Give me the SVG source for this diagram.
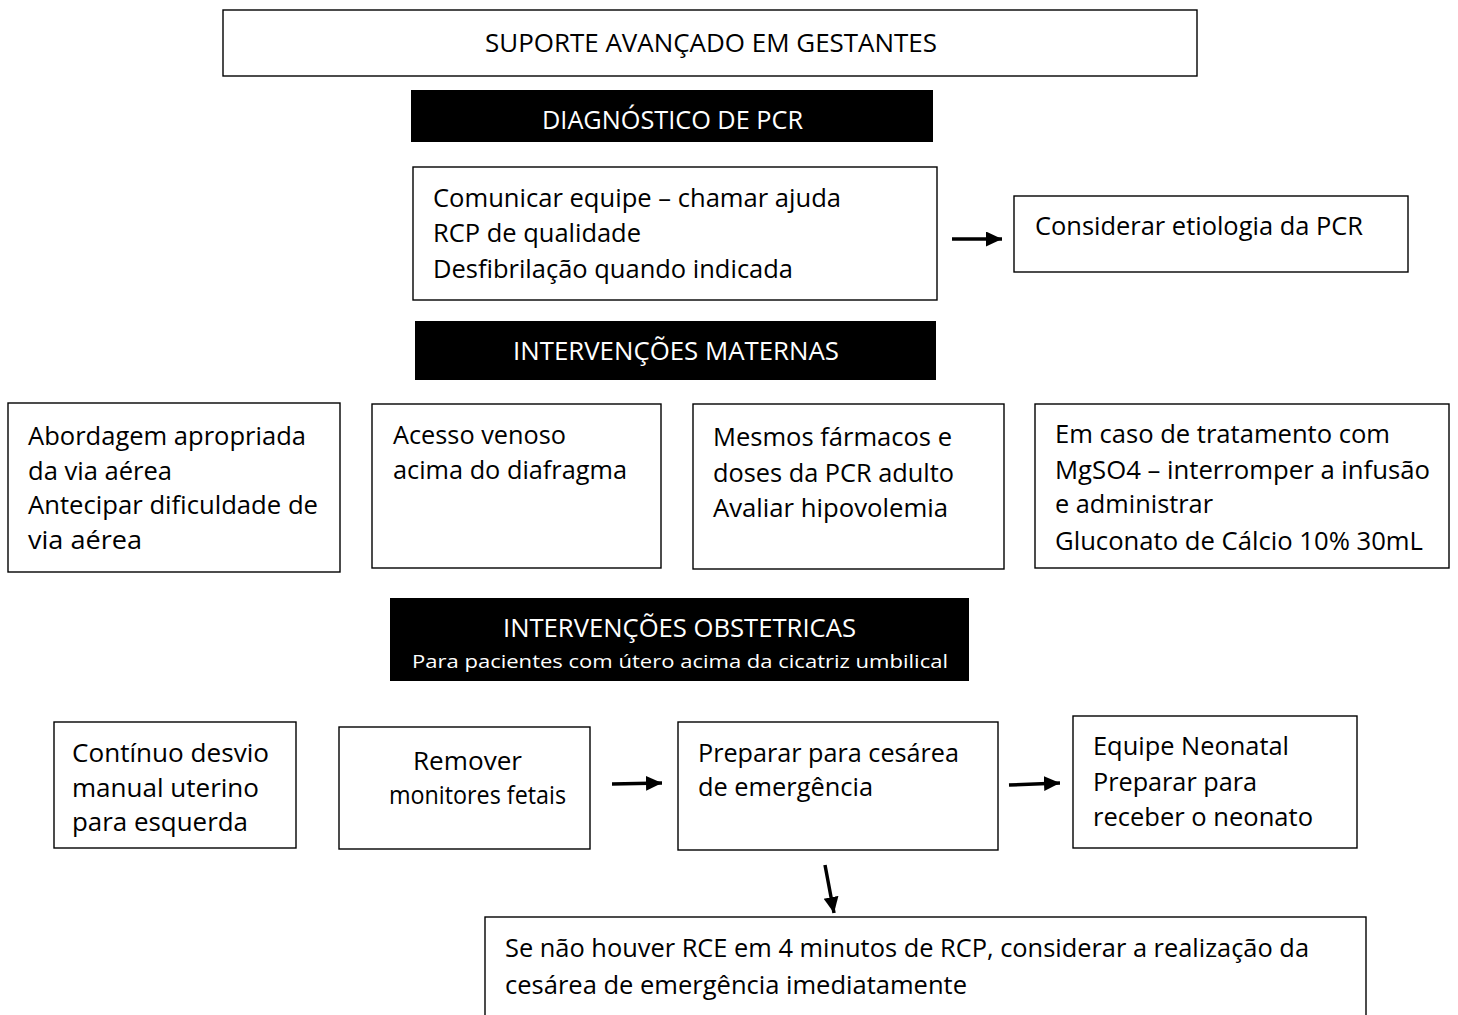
<svg xmlns="http://www.w3.org/2000/svg" width="1458" height="1015" viewBox="0 0 1458 1015">
<defs>
<marker id="ah" markerWidth="18" markerHeight="18" refX="16" refY="7.5" orient="auto" markerUnits="userSpaceOnUse"><path d="M0,0 L16,7.5 L0,15 Z" fill="#000"/></marker>
<style>
.box{fill:#fff;stroke:#000;stroke-width:1.4}
.bar{fill:#000}
text{font-family:"Open Sans","Liberation Sans",sans-serif;font-size:25.5px;fill:#000}
.w{fill:#fff}
.s{font-size:18px}
.arr{stroke:#000;stroke-width:3.5;fill:none;marker-end:url(#ah)}
</style>
</defs>
<rect width="1458" height="1015" fill="#fff"/>
<g id="title"><rect class="box" x="223" y="10" width="974" height="66"/><text x="485" y="52" textLength="452" lengthAdjust="spacingAndGlyphs">SUPORTE AVANÇADO EM GESTANTES</text></g>
<g id="diag"><rect class="bar" x="411" y="90" width="522" height="52"/><text class="w" x="542" y="129" textLength="261" lengthAdjust="spacingAndGlyphs">DIAGNÓSTICO DE PCR</text></g>
<g id="comunicar"><rect class="box" x="413" y="167" width="524" height="133"/>
<text x="433" y="207" textLength="408" lengthAdjust="spacingAndGlyphs">Comunicar equipe – chamar ajuda</text>
<text x="433" y="242" textLength="208" lengthAdjust="spacingAndGlyphs">RCP de qualidade</text>
<text x="433" y="278" textLength="360" lengthAdjust="spacingAndGlyphs">Desfibrilação quando indicada</text></g>
<g id="etiologia"><rect class="box" x="1014" y="196" width="394" height="76"/><text x="1035" y="235" textLength="328" lengthAdjust="spacingAndGlyphs">Considerar etiologia da PCR</text></g>
<g id="maternas"><rect class="bar" x="415" y="321" width="521" height="59"/><text class="w" x="513" y="360" textLength="326" lengthAdjust="spacingAndGlyphs">INTERVENÇÕES MATERNAS</text></g>
<g id="via-aerea"><rect class="box" x="8" y="403" width="332" height="169"/>
<text x="28" y="445" textLength="278" lengthAdjust="spacingAndGlyphs">Abordagem apropriada</text>
<text x="28" y="480" textLength="144" lengthAdjust="spacingAndGlyphs">da via aérea</text>
<text x="28" y="514" textLength="290" lengthAdjust="spacingAndGlyphs">Antecipar dificuldade de</text>
<text x="28" y="549" textLength="114" lengthAdjust="spacingAndGlyphs">via aérea</text></g>
<g id="acesso"><rect class="box" x="372" y="404" width="289" height="164"/>
<text x="393" y="444" textLength="173" lengthAdjust="spacingAndGlyphs">Acesso venoso</text>
<text x="393" y="479" textLength="234" lengthAdjust="spacingAndGlyphs">acima do diafragma</text></g>
<g id="farmacos"><rect class="box" x="693" y="404" width="311" height="165"/>
<text x="713" y="446" textLength="239" lengthAdjust="spacingAndGlyphs">Mesmos fármacos e</text>
<text x="713" y="482" textLength="241" lengthAdjust="spacingAndGlyphs">doses da PCR adulto</text>
<text x="713" y="517" textLength="235" lengthAdjust="spacingAndGlyphs">Avaliar hipovolemia</text></g>
<g id="mgso4"><rect class="box" x="1035" y="404" width="414" height="164"/>
<text x="1055" y="443" textLength="335" lengthAdjust="spacingAndGlyphs">Em caso de tratamento com</text>
<text x="1055" y="479" textLength="375" lengthAdjust="spacingAndGlyphs">MgSO4 – interromper a infusão</text>
<text x="1055" y="513" textLength="158" lengthAdjust="spacingAndGlyphs">e administrar</text>
<text x="1055" y="550" textLength="368" lengthAdjust="spacingAndGlyphs">Gluconato de Cálcio 10% 30mL</text></g>
<g id="obstetricas"><rect class="bar" x="390" y="598" width="579" height="83"/>
<text class="w" x="503" y="637" textLength="353" lengthAdjust="spacingAndGlyphs">INTERVENÇÕES OBSTETRICAS</text>
<text class="w s" x="412" y="668" textLength="536" lengthAdjust="spacingAndGlyphs">Para pacientes com útero acima da cicatriz umbilical</text></g>
<g id="desvio"><rect class="box" x="54" y="722" width="242" height="126"/>
<text x="72" y="762" textLength="197" lengthAdjust="spacingAndGlyphs">Contínuo desvio</text>
<text x="72" y="797" textLength="187" lengthAdjust="spacingAndGlyphs">manual uterino</text>
<text x="72" y="831" textLength="176" lengthAdjust="spacingAndGlyphs">para esquerda</text></g>
<g id="monitores"><rect class="box" x="339" y="727" width="251" height="122"/>
<text x="413" y="770" textLength="109" lengthAdjust="spacingAndGlyphs">Remover</text>
<text x="389" y="804" textLength="177" lengthAdjust="spacingAndGlyphs">monitores fetais</text></g>
<g id="cesarea"><rect class="box" x="678" y="722" width="320" height="128"/>
<text x="698" y="762" textLength="261" lengthAdjust="spacingAndGlyphs">Preparar para cesárea</text>
<text x="698" y="796" textLength="175" lengthAdjust="spacingAndGlyphs">de emergência</text></g>
<g id="neonatal"><rect class="box" x="1073" y="716" width="284" height="132"/>
<text x="1093" y="755" textLength="196" lengthAdjust="spacingAndGlyphs">Equipe Neonatal</text>
<text x="1093" y="791" textLength="164" lengthAdjust="spacingAndGlyphs">Preparar para</text>
<text x="1093" y="826" textLength="220" lengthAdjust="spacingAndGlyphs">receber o neonato</text></g>
<g id="rce"><rect class="box" x="485" y="917" width="881" height="110"/>
<text x="505" y="957" textLength="804" lengthAdjust="spacingAndGlyphs">Se não houver RCE em 4 minutos de RCP, considerar a realização da</text>
<text x="505" y="994" textLength="462" lengthAdjust="spacingAndGlyphs">cesárea de emergência imediatamente</text></g>
<g id="connectors">
<line class="arr" x1="952" y1="239" x2="1002" y2="239"/>
<line class="arr" x1="612" y1="784" x2="662" y2="783"/>
<line class="arr" x1="1009" y1="785" x2="1060" y2="783"/>
<line class="arr" x1="825" y1="865" x2="834" y2="913"/>
</g>
</svg>
